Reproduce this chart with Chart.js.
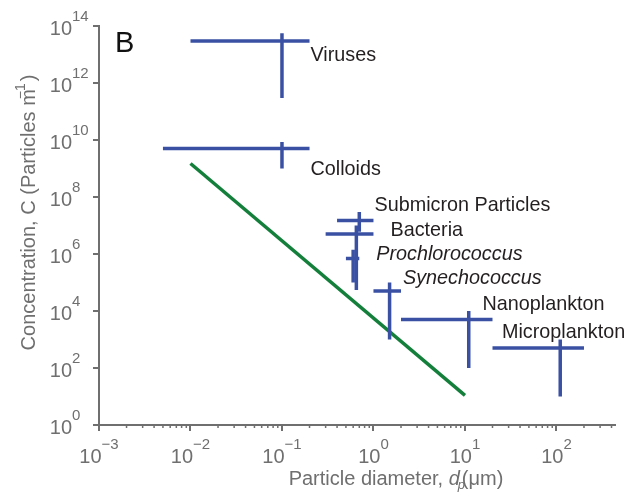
<!DOCTYPE html>
<html>
<head>
<meta charset="utf-8">
<script src="https://cdn.jsdelivr.net/npm/chart.js@4.4.0/dist/chart.umd.min.js"></script>
<style>
    body { margin: 0; background: #fff; }
</style>
</head>
<body>
<canvas id="sizeChart" width="630" height="497"></canvas>
<script>
// particle groups - centre value and range on each axis
const groups = ['Viruses', 'Colloids', 'Submicron Particles', 'Bacteria', 'Prochlorococcus', 'Synechococcus', 'Nanoplankton', 'Microplankton'];
const diameter = [0.1, 0.1, 0.7, 0.65, 0.6, 1.5, 11, 110];
const diameterMin = [0.01, 0.005, 0.4, 0.3, 0.5, 1.0, 2, 20];
const diameterMax = [0.2, 0.2, 1.0, 1.0, 0.7, 2, 20, 200];
const conc = [3e13, 5e9, 1.5e7, 5e6, 7e5, 5e4, 5e3, 5e2];
const concMin = [3e11, 1e9, 6e6, 5.5e4, 1e5, 1e3, 1e2, 10];
const concMax = [5.6e13, 8.5e9, 3e7, 1e7, 1.4e6, 1e5, 1e4, 1e3];

// green line (two end points)
const lineD = [0.01, 10];
const lineC = [1.5e9, 11];

const xTicks = [1e-3, 1e-2, 1e-1, 1e0, 1e1, 1e2];
const yTicks = [1e0, 1e2, 1e4, 1e6, 1e8, 1e10, 1e12, 1e14];

const gray = '#6f6f6f';
const blue = '#3a51a3';
const green = '#137f3b';
const fam = '"Liberation Sans", Arial, sans-serif';

// label placement: pixel offset from the right end of each horizontal bar
const labelOffset = [[1, 20], [1, 26], [1, -9], [17, 2], [17, 2], [2, -7], [-10, -10], [-82, -10]];
const italicLabels = ['Prochlorococcus', 'Synechococcus'];

const crossSets = groups.map(function (g, i) {
    return {
        label: g,
        data: [
            { x: diameterMin[i], y: conc[i] },
            { x: diameterMax[i], y: conc[i] },
            { x: diameterMax[i], y: null },
            { x: diameter[i], y: concMax[i] },
            { x: diameter[i], y: concMin[i] }
        ],
        showLine: true,
        spanGaps: false,
        borderColor: blue,
        borderWidth: 3.5,
        borderCapStyle: 'butt',
        pointRadius: 0
    };
});

const lineSet = {
    label: 'slope',
    data: lineD.map((d, i) => ({ x: d, y: lineC[i] })),
    showLine: true,
    borderColor: green,
    borderWidth: 3.5,
    pointRadius: 0
};

function sup(ctx, base, exp, x, y, align) {
    // "10" with a raised exponent
    ctx.font = '20px ' + fam;
    const w1 = ctx.measureText(base).width;
    ctx.font = '15px ' + fam;
    const w2 = ctx.measureText(exp).width;
    let start = x;
    if (align === 'center') start = x - (w1 + w2) / 2;
    if (align === 'right') start = x - w1;
    ctx.textAlign = 'left';
    ctx.font = '20px ' + fam;
    ctx.fillText(base, start, y);
    ctx.font = '15px ' + fam;
    ctx.fillText(exp, start + w1, y - 14);
}

function expText(v) {
    const e = Math.round(Math.log10(v));
    return e < 0 ? '\u2212' + (-e) : String(e);
}

const labelPlugin = {
    id: 'labelPlugin',
    afterDraw: function (chart) {
        const ctx = chart.ctx;
        const xs = chart.scales.x;
        const ys = chart.scales.y;
        const area = chart.chartArea;
        ctx.save();
        ctx.textBaseline = 'alphabetic';

        // minor ticks on x axis
        ctx.strokeStyle = gray;
        ctx.lineWidth = 1.5;
        for (let d = -3; d <= 2; d++) {
            for (let m = 2; m <= 9; m++) {
                const v = m * Math.pow(10, d);
                if (v > xs.max) continue;
                const px = xs.getPixelForValue(v);
                ctx.beginPath();
                ctx.moveTo(px, area.bottom);
                ctx.lineTo(px, area.bottom + 3);
                ctx.stroke();
            }
        }

        // tick labels
        ctx.fillStyle = gray;
        yTicks.forEach(function (v) {
            const py = ys.getPixelForValue(v);
            sup(ctx, '10', expText(v), area.left - 27, py + 9, 'right');
        });
        xTicks.forEach(function (v) {
            const px = xs.getPixelForValue(v);
            sup(ctx, '10', expText(v), px, area.bottom + 38, 'center');
        });

        // axis titles
        ctx.font = '20px ' + fam;
        const t1 = 'Concentration, C (Particles m';
        const w1 = ctx.measureText(t1).width;
        ctx.font = '14px ' + fam;
        const w2 = ctx.measureText('\u22121').width;
        ctx.font = '20px ' + fam;
        const w3 = ctx.measureText(')').width;
        const total = w1 + w2 - 8 + w3;
        ctx.save();
        ctx.translate(35, (area.top + area.bottom) / 2 - 13);
        ctx.rotate(-Math.PI / 2);
        ctx.textAlign = 'left';
        let sx = -total / 2;
        ctx.fillText(t1, sx, 0);
        ctx.font = '14px ' + fam;
        ctx.fillText('\u22121', sx + w1 - 10, -10);
        ctx.font = '20px ' + fam;
        ctx.fillText(')', sx + w1 + w2 - 8, 0);
        ctx.restore();

        ctx.font = '20px ' + fam;
        const a = 'Particle diameter, ';
        const wa = ctx.measureText(a).width;
        ctx.font = 'italic 20px ' + fam;
        const wd = ctx.measureText('d').width;
        ctx.font = '20px ' + fam;
        const wb = ctx.measureText('(\u03bcm)').width;
        const xt = wa + wd + 2 + wb;
        let tx = 396 - xt / 2;
        ctx.textAlign = 'left';
        ctx.fillText(a, tx, 485);
        ctx.font = 'italic 20px ' + fam;
        ctx.fillText('d', tx + wa, 485);
        ctx.font = 'italic 13px ' + fam;
        ctx.fillText('p', tx + wa + wd - 2, 489);
        ctx.font = '20px ' + fam;
        ctx.fillText('(\u03bcm)', tx + wa + wd + 2, 485);

        // group labels
        ctx.fillStyle = '#231f20';
        groups.forEach(function (g, i) {
            const px = xs.getPixelForValue(diameterMax[i]) + labelOffset[i][0];
            const py = ys.getPixelForValue(conc[i]) + labelOffset[i][1];
            ctx.font = (italicLabels.includes(g) ? 'italic ' : '') + '19.8px ' + fam;
            ctx.fillText(g, px, py);
        });

        // panel letter
        ctx.fillStyle = '#111';
        ctx.font = '29px ' + fam;
        ctx.fillText('B', area.left + 16, area.top + 26);
        ctx.restore();
    }
};

new Chart(document.getElementById('sizeChart'), {
    type: 'scatter',
    data: { datasets: crossSets.concat([lineSet]) },
    options: {
        responsive: false,
        animation: false,
        events: [],
        layout: { padding: { top: 26, right: 15, left: 0, bottom: 0 } },
        plugins: { legend: { display: false }, tooltip: { enabled: false } },
        scales: {
            x: {
                type: 'logarithmic',
                min: 1e-3,
                max: Math.pow(10, 2.64),
                afterBuildTicks: s => { s.ticks = xTicks.map(v => ({ value: v, major: true })); },
                afterFit: s => { s.height = 72; },
                ticks: { display: false },
                grid: { drawOnChartArea: false, drawTicks: true, tickLength: 6, color: gray, lineWidth: 2 },
                border: { color: gray, width: 2 }
            },
            y: {
                type: 'logarithmic',
                min: 1,
                max: 1e14,
                afterBuildTicks: s => { s.ticks = yTicks.map(v => ({ value: v, major: true })); },
                afterFit: s => { s.width = 99; },
                ticks: { display: false },
                grid: { drawOnChartArea: false, drawTicks: true, tickLength: 6, color: gray, lineWidth: 2 },
                border: { color: gray, width: 2 }
            }
        }
    },
    plugins: [labelPlugin]
});
</script>
</body>
</html>
